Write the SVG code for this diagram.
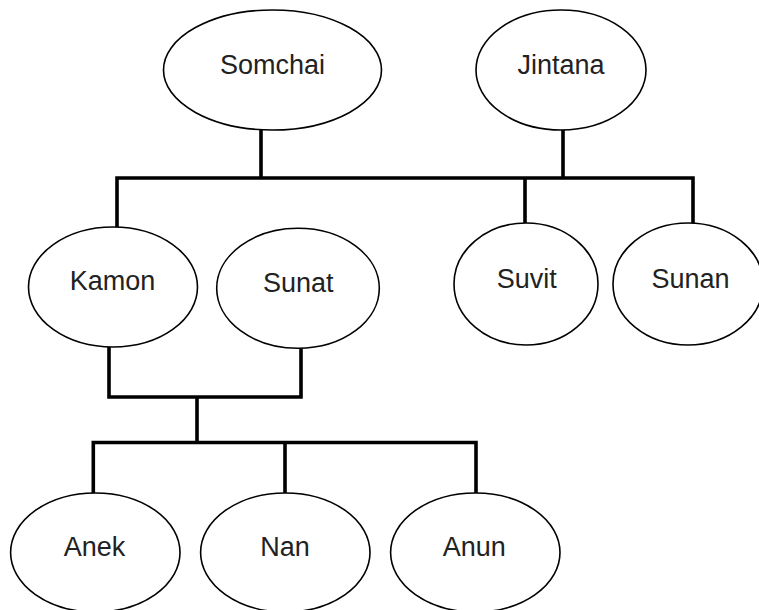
<svg xmlns="http://www.w3.org/2000/svg" width="759" height="610" viewBox="0 0 759 610">
<style>
.node ellipse{fill:#fff;stroke:#000;stroke-width:1.6}
.node text{font-family:"Liberation Sans",Arial,sans-serif;font-size:27px;fill:#222;text-anchor:middle}
.conn path{fill:none;stroke:#000;stroke-width:3.6;stroke-linejoin:miter;stroke-linecap:butt}
</style>
<rect width="759" height="610" fill="#fff"/>
<g class="conn" id="connectors">
<path d="M261 130 V178"/>
<path d="M563 130 V178"/>
<path d="M117 227 V178 H693 V225"/>
<path d="M525 178 V224"/>
<path d="M109 347 V397 H301 V348"/>
<path d="M197 397 V442.5"/>
<path d="M93.3 493 V442.5 H476 V493"/>
<path d="M285 442.5 V493"/>
</g>
<g class="node" id="somchai"><ellipse cx="272.5" cy="70" rx="109" ry="60"/><text x="272.5" y="74">Somchai</text></g>
<g class="node" id="jintana"><ellipse cx="561" cy="70" rx="85" ry="60"/><text x="561" y="74">Jintana</text></g>
<g class="node" id="kamon"><ellipse cx="113" cy="287" rx="84.5" ry="60"/><text x="112.5" y="289.5">Kamon</text></g>
<g class="node" id="sunat"><ellipse cx="298" cy="288.3" rx="81.3" ry="60"/><text x="298.3" y="291.7">Sunat</text></g>
<g class="node" id="suvit"><ellipse cx="526" cy="284" rx="72" ry="61"/><text x="526.7" y="288.3">Suvit</text></g>
<g class="node" id="sunan"><ellipse cx="688" cy="284" rx="75" ry="61"/><text x="690.5" y="288.3">Sunan</text></g>
<g class="node" id="anek"><ellipse cx="95.3" cy="552.5" rx="84.7" ry="59.5"/><text x="94.5" y="556">Anek</text></g>
<g class="node" id="nan"><ellipse cx="285.3" cy="552.5" rx="84.7" ry="59.5"/><text x="285" y="556">Nan</text></g>
<g class="node" id="anun"><ellipse cx="475.3" cy="552.5" rx="84.7" ry="59.5"/><text x="474.3" y="556">Anun</text></g>
</svg>
